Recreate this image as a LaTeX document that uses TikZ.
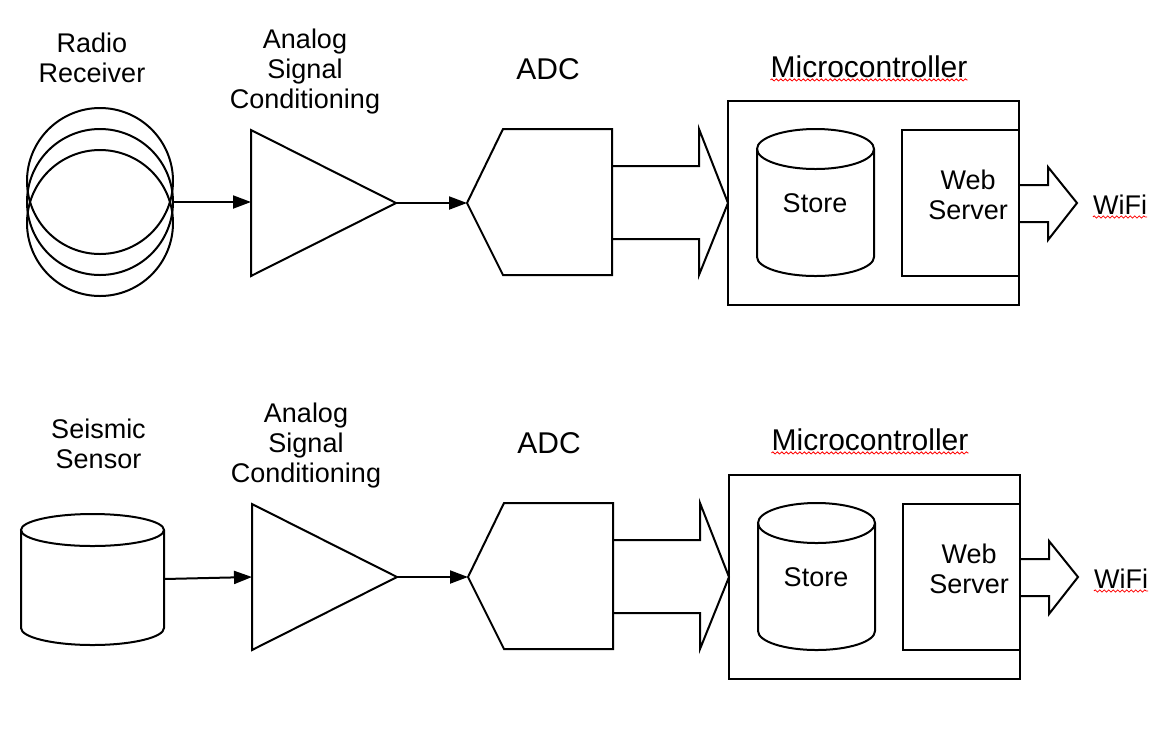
\documentclass[tikz,border=0pt]{standalone}
\usepackage{fontspec}
\setmainfont{Liberation Sans}
\usetikzlibrary{arrows.meta}
\usetikzlibrary{decorations.pathmorphing}

\begin{document}
\begin{tikzpicture}[x=1pt,y=-1pt]
    \tikzstyle{outline} = [line width=2pt,draw=black,line join=miter]
    \tikzstyle{dedge}   = [line width=2pt,-{Triangle[length=18pt,width=13pt]},draw=black]
    \tikzstyle{txt}     = [font=\fontsize{27}{30}\selectfont,align=center,inner sep=0pt,anchor=north]
    \tikzstyle{title}   = [font=\fontsize{30}{34}\selectfont,inner sep=0pt,anchor=north]
    \tikzstyle{spell}   = [draw=red,line width=0.8pt,decorate,
                           decoration={snake,amplitude=1.1pt,segment length=4.5pt}]

    \useasboundingbox (0,0) rectangle (1174,732);

    % top row
    \node[txt] (rrtxt) at (92,33) {Radio\\Receiver};
    \draw[outline] (100,181) circle [radius=73];
    \draw[outline] (100,202) circle [radius=73];
    \draw[outline] (100,223) circle [radius=73];
    \coordinate (rr) at (173,202);

    \node[txt] (asctxt1) at (305,29) {Analog\\Signal\\Conditioning};
    \coordinate (asc1in) at (251,202);
    \coordinate (asc1out) at (396,203);
    \draw[outline] (251,130) -- (asc1out) -- (251,276) -- cycle;

    \node[title] (adctxt1) at (548,58) {ADC};
    \coordinate (adc1in) at (467,203);
    \draw[outline] (adc1in) -- (503,129) -- (612,129) -- (612,275) -- (503,275) -- cycle;
    \draw[outline] (612,166) -- (699,166) -- (699,129) -- (728,203)
                   -- (699,275) -- (699,239) -- (612,239);

    \node[title] (mctxt1) at (869,55.5) {Microcontroller};
    \node[outline,rectangle,inner sep=0pt,minimum width=291pt,minimum height=204pt] (mc1) at (873.5,203) {};
    \draw[outline] (757,149) -- (757,257) arc[start angle=180,end angle=0,x radius=58.5,y radius=19] -- (874,149);
    \draw[outline] (815.5,149) ellipse [x radius=58.5,y radius=20];
    \node[txt] (st1) at (815,193) {Store};
    \node[outline,rectangle,inner sep=0pt,minimum width=117pt,minimum height=146pt] (ws1) at (960.5,203) {};
    \node[txt] (wstxt1) at (968,170) {Web\\Server};
    \draw[outline] (1019,185) -- (1048,185) -- (1048,167) -- (1077,203)
                   -- (1048,240) -- (1048,222) -- (1019,222);
    \node[txt] (wifi1) at (1120,195) {WiFi};

    \draw[dedge] (rr) -- (asc1in);
    \draw[dedge] (asc1out) -- (adc1in);
    \draw[spell] ([yshift=-2pt]mctxt1.south west) -- ([yshift=-2pt]mctxt1.south east);
    \draw[spell] ([yshift=-2pt]wifi1.south west) -- ([yshift=-2pt]wifi1.south east);

    % bottom row
    \node[txt] (sstxt) at (98.5,419) {Seismic\\Sensor};
    \draw[outline] (21,530) -- (21,628) arc[start angle=180,end angle=0,x radius=71.5,y radius=17] -- (164,530);
    \draw[outline] (92.5,530) ellipse [x radius=71.5,y radius=16];
    \coordinate (ss) at (164,579);

    \node[txt] (asctxt2) at (306,403) {Analog\\Signal\\Conditioning};
    \coordinate (asc2in) at (252,577);
    \coordinate (asc2out) at (397,577);
    \draw[outline] (252,504) -- (asc2out) -- (252,650) -- cycle;

    \node[title] (adctxt2) at (549,432.5) {ADC};
    \coordinate (adc2in) at (468,577);
    \draw[outline] (adc2in) -- (504,503) -- (613,503) -- (613,649) -- (504,649) -- cycle;
    \draw[outline] (613,540) -- (700,540) -- (700,503) -- (729,577)
                   -- (700,649) -- (700,613) -- (613,613);

    \node[title] (mctxt2) at (870,428.5) {Microcontroller};
    \node[outline,rectangle,inner sep=0pt,minimum width=291pt,minimum height=204pt] (mc2) at (874.5,577) {};
    \draw[outline] (758,523) -- (758,631) arc[start angle=180,end angle=0,x radius=58.5,y radius=19] -- (875,523);
    \draw[outline] (816.5,523) ellipse [x radius=58.5,y radius=20];
    \node[txt] (st2) at (816,567) {Store};
    \node[outline,rectangle,inner sep=0pt,minimum width=117pt,minimum height=146pt] (ws2) at (961.5,577) {};
    \node[txt] (wstxt2) at (969,544) {Web\\Server};
    \draw[outline] (1020,559) -- (1049,559) -- (1049,541) -- (1078,577)
                   -- (1049,614) -- (1049,596) -- (1020,596);
    \node[txt] (wifi2) at (1121,569) {WiFi};

    \draw[dedge] (ss) -- (asc2in);
    \draw[dedge] (asc2out) -- (adc2in);
    \draw[spell] ([yshift=-2pt]mctxt2.south west) -- ([yshift=-2pt]mctxt2.south east);
    \draw[spell] ([yshift=-2pt]wifi2.south west) -- ([yshift=-2pt]wifi2.south east);
\end{tikzpicture}
\end{document}
